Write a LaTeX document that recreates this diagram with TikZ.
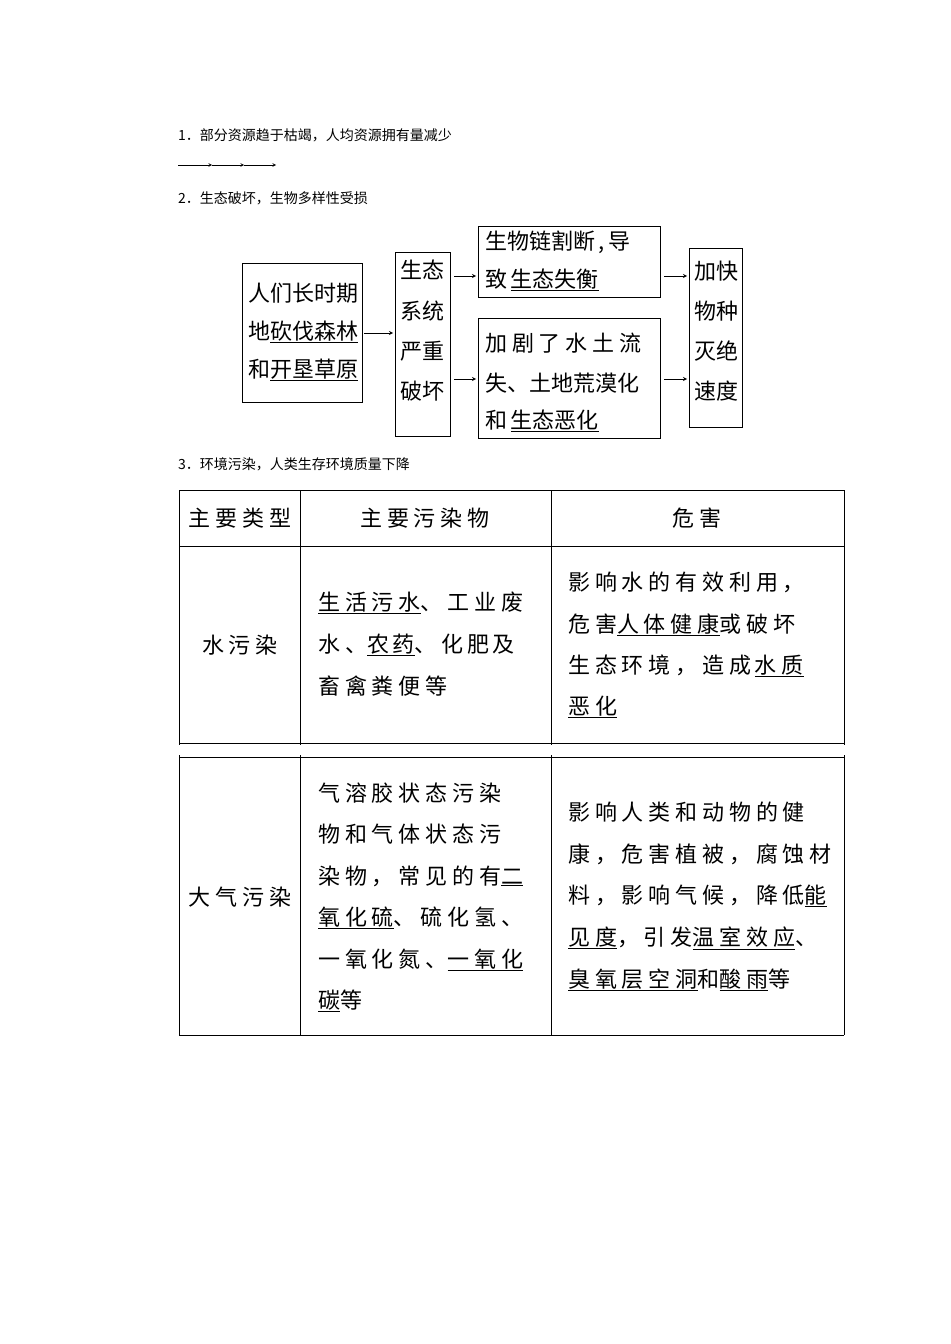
\documentclass[tikz,border=0pt]{standalone}
\usepackage{fontspec}
\setmainfont{Liberation Serif}
\newfontfamily\cjk{Noto Sans CJK SC}
\newfontfamily\cjkw[LetterSpace=22]{Noto Sans CJK SC}
\newcommand\ul[1]{\underline{#1}}
\begin{document}
\begin{tikzpicture}[x=1bp,y=-1bp,
  hd/.style={anchor=west,inner sep=0,font=\cjk\fontsize{14bp}{14bp}\selectfont},
  bx/.style={draw,line width=1pt},
  dt/.style={anchor=west,inner sep=0,font=\cjk\fontsize{22bp}{22bp}\selectfont},
  dc/.style={inner sep=0,font=\cjk\fontsize{22bp}{22bp}\selectfont},
  tt/.style={anchor=west,inner sep=0,font=\cjkw\fontsize{22bp}{22bp}\selectfont},
  tc/.style={inner sep=0,font=\cjkw\fontsize{22bp}{22bp}\selectfont},
  ar/.style={->,>=stealth,line width=0.8pt},
  tl/.style={line width=1pt}]
\useasboundingbox (0,0) rectangle (950,1344);
\node[hd] (h1) at (178,135) {1．部分资源趋于枯竭，人均资源拥有量减少};
\coordinate (d0) at (178,165); \coordinate (d1) at (212,165);
\coordinate (d2) at (244,165); \coordinate (d3) at (276,165);
\draw[ar,line width=0.6pt] (d0) -- (d1); \draw[ar,line width=0.6pt] (d1) -- (d2); \draw[ar,line width=0.6pt] (d2) -- (d3);
\node[hd] (h2) at (178,198) {2．生态破坏，生物多样性受损};
% boxes
\draw[bx] (242,263) rectangle (362,402);
\coordinate (b1e) at (362,333);
\node[dt] (t11) at (248,293) {人们长时期};
\node[dt] (t12) at (248,332) {地\ul{砍伐森林}};
\node[dt] (t13) at (248,370) {和\ul{开垦草原}};
\draw[bx] (395,252) rectangle (450,436);
\node[dc] (t21) at (422,270) {生态};
\node[dc] (t22) at (422,311) {系统};
\node[dc] (t23) at (422,351) {严重};
\node[dc] (t24) at (422,391) {破坏};
\draw[bx] (478,226) rectangle (660,297);
\node[dt] (t31) at (485,242) {生物链割断\,,\,导};
\node[dt] (t32) at (485,280) {致\,\ul{生态失衡}};
\draw[bx] (478,318) rectangle (660,438);
\node[dt,font=\cjkw\fontsize{22bp}{22bp}\selectfont] (t41) at (485,343) {加剧了水土流};
\node[dt] (t42) at (485,383) {失、土地荒漠化};
\node[dt] (t43) at (485,421) {和\,\ul{生态恶化}};
\draw[bx] (689,248) rectangle (742,427);
\node[dc] (t51) at (716,271) {加快};
\node[dc] (t52) at (716,311) {物种};
\node[dc] (t53) at (716,351) {灭绝};
\node[dc] (t54) at (716,391) {速度};
\coordinate (a1s) at (364,333); \coordinate (a1e) at (393,333);
\coordinate (a2s) at (454,276); \coordinate (a2e) at (476,276);
\coordinate (a3s) at (454,379); \coordinate (a3e) at (476,379);
\coordinate (a4s) at (664,276); \coordinate (a4e) at (687,276);
\coordinate (a5s) at (664,379); \coordinate (a5e) at (687,379);
\draw[ar] (a1s) -- (a1e); \draw[ar] (a2s) -- (a2e); \draw[ar] (a3s) -- (a3e);
\draw[ar] (a4s) -- (a4e); \draw[ar] (a5s) -- (a5e);
\node[hd] (h3) at (178,464) {3．环境污染，人类生存环境质量下降};
% table part 1
\draw[tl] (179,490) -- (844,490) (179,546) -- (844,546) (179,743) -- (844,743);
\foreach \x in {179,300,551,844} \draw[tl] (\x,490) -- (\x,745);
\draw[tl] (179,757) -- (844,757) (179,1035) -- (844,1035);
\foreach \x in {179,300,551,844} \draw[tl] (\x,755) -- (\x,1035);
\node[tc] (c1) at (240,518) {主要类型};
\node[tc] (c2) at (425,518) {主要污染物};
\node[tc] (c3) at (697,518) {危害};
\node[tc] (r1) at (240,645) {水污染};
\node[tt] (r1a) at (318,603) {\ul{生活污水}、工业废};
\node[tt] (r1b) at (318,645) {水、\ul{农\,药}、化\,肥\,及};
\node[tt] (r1c) at (318,686) {畜禽粪便等};
\node[tt] (r1d) at (568,582) {影响水的有效利用，};
\node[tt] (r1e) at (568,625) {危害\ul{人体健康}或破坏};
\node[tt] (r1f) at (568,666) {生态环境，造成\,\ul{水质}};
\node[tt] (r1g) at (568,707) {\ul{恶化}};
\node[tc] (r2) at (240,897) {大气污染};
\node[tt] (r2a) at (318,793) {气溶胶状态污染};
\node[tt] (r2b) at (318,834) {物和气体状态污};
\node[tt] (r2c) at (318,876) {染物，常见的有\ul{二}};
\node[tt] (r2d) at (318,918) {\ul{氧化硫}、硫化氢、};
\node[tt] (r2e) at (318,960) {一氧化氮、\ul{一氧化}};
\node[tt] (r2f) at (318,1001) {\ul{碳}等};
\node[tt] (r2g) at (568,812) {影响人类和动物的健};
\node[tt] (r2h) at (568,854) {康，危害植被，腐蚀材};
\node[tt] (r2i) at (568,896) {料，影响气候，降低\ul{能}};
\node[tt] (r2j) at (568,938) {\ul{见度}，引发\ul{温室效应}、};
\node[tt] (r2k) at (568,980) {\ul{臭氧层空洞}和\ul{酸雨}等};
\end{tikzpicture}
\end{document}
